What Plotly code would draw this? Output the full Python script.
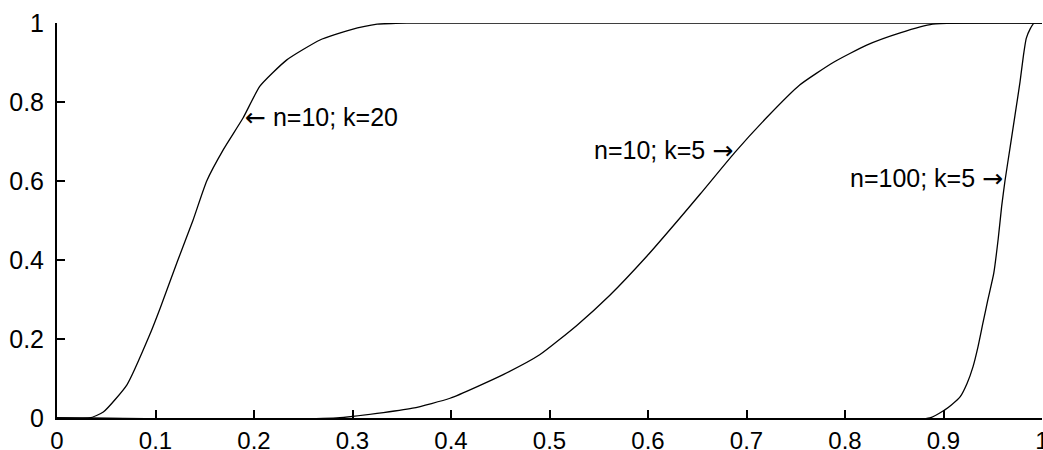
import plotly.graph_objects as go

# Curve "n=10; k=20"
xa = [0, 0.033, 0.047, 0.071, 0.094, 0.105, 0.122, 0.138, 0.152, 0.169, 0.189, 0.206, 0.233, 0.267, 0.297, 0.325, 0.355, 1.0]
ya = [0, 0, 0.015, 0.084, 0.21, 0.28, 0.395, 0.50, 0.60, 0.68, 0.76, 0.84, 0.906, 0.957, 0.982, 0.997, 1.0, 1.0]

# Curve "n=10; k=5"
xb = [0, 0.284, 0.361, 0.399, 0.453, 0.490, 0.528, 0.561, 0.599, 0.632, 0.653, 0.688, 0.721, 0.754, 0.788, 0.822, 0.856, 0.889, 1.0]
yb = [0, 0, 0.025, 0.05, 0.11, 0.16, 0.235, 0.31, 0.41, 0.505, 0.567, 0.672, 0.762, 0.843, 0.90, 0.944, 0.975, 0.997, 1.0]

# Curve "n=100; k=5"
xc = [0, 0.886, 0.901, 0.908, 0.917, 0.924, 0.930, 0.935, 0.940, 0.945, 0.951, 0.9556, 0.959, 0.9624,
      0.9675, 0.9726, 0.9777, 0.981, 0.984, 0.988, 0.992, 1.0]
yc = [0, 0, 0.02, 0.033, 0.054, 0.088, 0.13, 0.18, 0.24, 0.299, 0.366, 0.455, 0.535, 0.60,
      0.683, 0.767, 0.851, 0.915, 0.961, 0.985, 1.0, 1.0]

tick_vals_x = [0, 0.1, 0.2, 0.3, 0.4, 0.5, 0.6, 0.7, 0.8, 0.9, 1]
tick_text_x = ["0", "0.1", "0.2", "0.3", "0.4", "0.5", "0.6", "0.7", "0.8", "0.9", "1"]
tick_vals_y = [0, 0.2, 0.4, 0.6, 0.8, 1]
tick_text_y = ["0", "0.2", "0.4", "0.6", "0.8", "1"]

ARROW_L = '<span style="font-family:DejaVu Sans">\u2190</span>'
ARROW_R = '<span style="font-family:DejaVu Sans">\u2192</span>'
labels = [ARROW_L + " n=10; k=20", "n=10; k=5 " + ARROW_R, "n=100; k=5 " + ARROW_R]
label_x = [0.189, 0.688, 0.962]
label_y = [0.76, 0.678, 0.607]
label_anchor = ["left", "right", "right"]

FONT = "Liberation Sans, Arial, sans-serif"
FS = 25

fig = go.Figure()
for xs, ys in [(xa, ya), (xb, yb), (xc, yc)]:
    fig.add_trace(go.Scatter(x=xs, y=ys, mode="lines",
                             line=dict(color="black", width=1.3, shape="spline", smoothing=0.5),
                             cliponaxis=False, showlegend=False, hoverinfo="skip"))

for t, x, y, a in zip(labels, label_x, label_y, label_anchor):
    fig.add_annotation(x=x, y=y, text=t, showarrow=False, xanchor=a, yanchor="middle",
                       font=dict(family=FONT, size=FS, color="black"))

fig.update_layout(
    width=1043, height=450,
    margin=dict(l=57, r=1, t=23, b=32, autoexpand=False),
    paper_bgcolor="white", plot_bgcolor="white",
    font=dict(family=FONT, size=FS, color="black"),
    showlegend=False,
)
fig.update_xaxes(range=[0, 1], tickvals=tick_vals_x, ticktext=tick_text_x, automargin=False,
                 showgrid=False, zeroline=False, showline=True, linecolor="black", linewidth=2,
                 ticks="inside", ticklen=8, tickwidth=1.5, tickcolor="black",
                 ticklabelstandoff=0, ticklabeloverflow="allow",
                 tickfont=dict(family=FONT, size=24, color="black"))
fig.update_yaxes(range=[0, 1], tickvals=tick_vals_y, ticktext=tick_text_y, automargin=False,
                 showgrid=False, zeroline=False, showline=True, linecolor="black", linewidth=2,
                 ticks="inside", ticklen=8, tickwidth=1.5, tickcolor="black",
                 ticklabelstandoff=6,
                 tickfont=dict(family=FONT, size=FS, color="black"))

fig.write_html("out.html", config={"displayModeBar": False},
               post_script="document.body.style.margin='0';document.body.style.overflow='hidden';")
